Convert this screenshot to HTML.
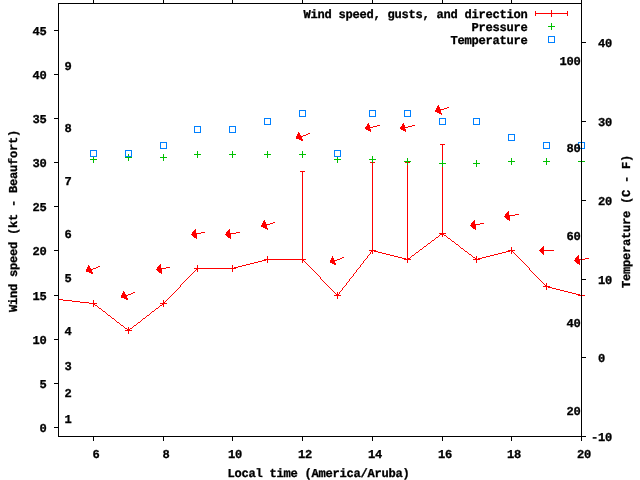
<!DOCTYPE html>
<html><head><meta charset="utf-8"><title>Wind chart</title>
<style>html,body{margin:0;padding:0;background:#fff;width:640px;height:480px;overflow:hidden} svg{display:block;will-change:transform}</style>
</head><body>
<svg width="640" height="480" viewBox="0 0 640 480">
<defs><clipPath id="pc"><rect x="59" y="3" width="522" height="433"/></clipPath></defs>
<rect width="640" height="480" fill="#fff"/>
<g shape-rendering="crispEdges">
<rect x="58" y="299" width="5" height="1" fill="#ff0000"/>
<rect x="63" y="300" width="9" height="1" fill="#ff0000"/>
<rect x="72" y="301" width="8" height="1" fill="#ff0000"/>
<rect x="80" y="302" width="9" height="1" fill="#ff0000"/>
<rect x="89" y="303" width="5" height="1" fill="#ff0000"/>
<rect x="93" y="303" width="1" height="1" fill="#ff0000"/>
<rect x="94" y="304" width="1" height="1" fill="#ff0000"/>
<rect x="95" y="305" width="2" height="1" fill="#ff0000"/>
<rect x="97" y="306" width="1" height="1" fill="#ff0000"/>
<rect x="98" y="307" width="1" height="1" fill="#ff0000"/>
<rect x="99" y="308" width="2" height="1" fill="#ff0000"/>
<rect x="101" y="309" width="1" height="1" fill="#ff0000"/>
<rect x="102" y="310" width="1" height="1" fill="#ff0000"/>
<rect x="103" y="311" width="2" height="1" fill="#ff0000"/>
<rect x="105" y="312" width="1" height="1" fill="#ff0000"/>
<rect x="106" y="313" width="1" height="1" fill="#ff0000"/>
<rect x="107" y="314" width="1" height="1" fill="#ff0000"/>
<rect x="108" y="315" width="2" height="1" fill="#ff0000"/>
<rect x="110" y="316" width="1" height="1" fill="#ff0000"/>
<rect x="111" y="317" width="1" height="1" fill="#ff0000"/>
<rect x="112" y="318" width="2" height="1" fill="#ff0000"/>
<rect x="114" y="319" width="1" height="1" fill="#ff0000"/>
<rect x="115" y="320" width="1" height="1" fill="#ff0000"/>
<rect x="116" y="321" width="1" height="1" fill="#ff0000"/>
<rect x="117" y="322" width="2" height="1" fill="#ff0000"/>
<rect x="119" y="323" width="1" height="1" fill="#ff0000"/>
<rect x="120" y="324" width="1" height="1" fill="#ff0000"/>
<rect x="121" y="325" width="2" height="1" fill="#ff0000"/>
<rect x="123" y="326" width="1" height="1" fill="#ff0000"/>
<rect x="124" y="327" width="1" height="1" fill="#ff0000"/>
<rect x="125" y="328" width="2" height="1" fill="#ff0000"/>
<rect x="127" y="329" width="1" height="1" fill="#ff0000"/>
<rect x="128" y="330" width="1" height="1" fill="#ff0000"/>
<rect x="128" y="330" width="1" height="1" fill="#ff0000"/>
<rect x="129" y="329" width="1" height="1" fill="#ff0000"/>
<rect x="130" y="328" width="2" height="1" fill="#ff0000"/>
<rect x="132" y="327" width="1" height="1" fill="#ff0000"/>
<rect x="133" y="326" width="1" height="1" fill="#ff0000"/>
<rect x="134" y="325" width="2" height="1" fill="#ff0000"/>
<rect x="136" y="324" width="1" height="1" fill="#ff0000"/>
<rect x="137" y="323" width="1" height="1" fill="#ff0000"/>
<rect x="138" y="322" width="2" height="1" fill="#ff0000"/>
<rect x="140" y="321" width="1" height="1" fill="#ff0000"/>
<rect x="141" y="320" width="1" height="1" fill="#ff0000"/>
<rect x="142" y="319" width="1" height="1" fill="#ff0000"/>
<rect x="143" y="318" width="2" height="1" fill="#ff0000"/>
<rect x="145" y="317" width="1" height="1" fill="#ff0000"/>
<rect x="146" y="316" width="1" height="1" fill="#ff0000"/>
<rect x="147" y="315" width="2" height="1" fill="#ff0000"/>
<rect x="149" y="314" width="1" height="1" fill="#ff0000"/>
<rect x="150" y="313" width="1" height="1" fill="#ff0000"/>
<rect x="151" y="312" width="1" height="1" fill="#ff0000"/>
<rect x="152" y="311" width="2" height="1" fill="#ff0000"/>
<rect x="154" y="310" width="1" height="1" fill="#ff0000"/>
<rect x="155" y="309" width="1" height="1" fill="#ff0000"/>
<rect x="156" y="308" width="2" height="1" fill="#ff0000"/>
<rect x="158" y="307" width="1" height="1" fill="#ff0000"/>
<rect x="159" y="306" width="1" height="1" fill="#ff0000"/>
<rect x="160" y="305" width="2" height="1" fill="#ff0000"/>
<rect x="162" y="304" width="1" height="1" fill="#ff0000"/>
<rect x="163" y="303" width="1" height="1" fill="#ff0000"/>
<rect x="163" y="303" width="1" height="1" fill="#ff0000"/>
<rect x="164" y="302" width="1" height="1" fill="#ff0000"/>
<rect x="165" y="301" width="1" height="1" fill="#ff0000"/>
<rect x="166" y="300" width="1" height="1" fill="#ff0000"/>
<rect x="167" y="299" width="1" height="1" fill="#ff0000"/>
<rect x="168" y="298" width="1" height="1" fill="#ff0000"/>
<rect x="169" y="297" width="1" height="1" fill="#ff0000"/>
<rect x="170" y="296" width="1" height="1" fill="#ff0000"/>
<rect x="171" y="295" width="1" height="1" fill="#ff0000"/>
<rect x="172" y="294" width="1" height="1" fill="#ff0000"/>
<rect x="173" y="293" width="1" height="1" fill="#ff0000"/>
<rect x="174" y="292" width="1" height="1" fill="#ff0000"/>
<rect x="175" y="291" width="1" height="1" fill="#ff0000"/>
<rect x="176" y="290" width="1" height="1" fill="#ff0000"/>
<rect x="177" y="289" width="1" height="1" fill="#ff0000"/>
<rect x="178" y="288" width="1" height="1" fill="#ff0000"/>
<rect x="179" y="287" width="1" height="1" fill="#ff0000"/>
<rect x="180" y="285" width="1" height="2" fill="#ff0000"/>
<rect x="181" y="284" width="1" height="1" fill="#ff0000"/>
<rect x="182" y="283" width="1" height="1" fill="#ff0000"/>
<rect x="183" y="282" width="1" height="1" fill="#ff0000"/>
<rect x="184" y="281" width="1" height="1" fill="#ff0000"/>
<rect x="185" y="280" width="1" height="1" fill="#ff0000"/>
<rect x="186" y="279" width="1" height="1" fill="#ff0000"/>
<rect x="187" y="278" width="1" height="1" fill="#ff0000"/>
<rect x="188" y="277" width="1" height="1" fill="#ff0000"/>
<rect x="189" y="276" width="1" height="1" fill="#ff0000"/>
<rect x="190" y="275" width="1" height="1" fill="#ff0000"/>
<rect x="191" y="274" width="1" height="1" fill="#ff0000"/>
<rect x="192" y="273" width="1" height="1" fill="#ff0000"/>
<rect x="193" y="272" width="1" height="1" fill="#ff0000"/>
<rect x="194" y="271" width="1" height="1" fill="#ff0000"/>
<rect x="195" y="270" width="1" height="1" fill="#ff0000"/>
<rect x="196" y="269" width="1" height="1" fill="#ff0000"/>
<rect x="197" y="268" width="1" height="1" fill="#ff0000"/>
<rect x="197" y="268" width="36" height="1" fill="#ff0000"/>
<rect x="232" y="268" width="2" height="1" fill="#ff0000"/>
<rect x="234" y="267" width="4" height="1" fill="#ff0000"/>
<rect x="238" y="266" width="4" height="1" fill="#ff0000"/>
<rect x="242" y="265" width="4" height="1" fill="#ff0000"/>
<rect x="246" y="264" width="4" height="1" fill="#ff0000"/>
<rect x="250" y="263" width="4" height="1" fill="#ff0000"/>
<rect x="254" y="262" width="4" height="1" fill="#ff0000"/>
<rect x="258" y="261" width="4" height="1" fill="#ff0000"/>
<rect x="262" y="260" width="4" height="1" fill="#ff0000"/>
<rect x="266" y="259" width="2" height="1" fill="#ff0000"/>
<rect x="267" y="259" width="36" height="1" fill="#ff0000"/>
<rect x="302" y="259" width="1" height="1" fill="#ff0000"/>
<rect x="303" y="260" width="1" height="1" fill="#ff0000"/>
<rect x="304" y="261" width="1" height="1" fill="#ff0000"/>
<rect x="305" y="262" width="1" height="1" fill="#ff0000"/>
<rect x="306" y="263" width="1" height="1" fill="#ff0000"/>
<rect x="307" y="264" width="1" height="1" fill="#ff0000"/>
<rect x="308" y="265" width="1" height="1" fill="#ff0000"/>
<rect x="309" y="266" width="1" height="1" fill="#ff0000"/>
<rect x="310" y="267" width="1" height="1" fill="#ff0000"/>
<rect x="311" y="268" width="1" height="1" fill="#ff0000"/>
<rect x="312" y="269" width="1" height="1" fill="#ff0000"/>
<rect x="313" y="270" width="1" height="1" fill="#ff0000"/>
<rect x="314" y="271" width="1" height="1" fill="#ff0000"/>
<rect x="315" y="272" width="1" height="1" fill="#ff0000"/>
<rect x="316" y="273" width="1" height="1" fill="#ff0000"/>
<rect x="317" y="274" width="1" height="1" fill="#ff0000"/>
<rect x="318" y="275" width="1" height="1" fill="#ff0000"/>
<rect x="319" y="276" width="1" height="1" fill="#ff0000"/>
<rect x="320" y="277" width="1" height="2" fill="#ff0000"/>
<rect x="321" y="279" width="1" height="1" fill="#ff0000"/>
<rect x="322" y="280" width="1" height="1" fill="#ff0000"/>
<rect x="323" y="281" width="1" height="1" fill="#ff0000"/>
<rect x="324" y="282" width="1" height="1" fill="#ff0000"/>
<rect x="325" y="283" width="1" height="1" fill="#ff0000"/>
<rect x="326" y="284" width="1" height="1" fill="#ff0000"/>
<rect x="327" y="285" width="1" height="1" fill="#ff0000"/>
<rect x="328" y="286" width="1" height="1" fill="#ff0000"/>
<rect x="329" y="287" width="1" height="1" fill="#ff0000"/>
<rect x="330" y="288" width="1" height="1" fill="#ff0000"/>
<rect x="331" y="289" width="1" height="1" fill="#ff0000"/>
<rect x="332" y="290" width="1" height="1" fill="#ff0000"/>
<rect x="333" y="291" width="1" height="1" fill="#ff0000"/>
<rect x="334" y="292" width="1" height="1" fill="#ff0000"/>
<rect x="335" y="293" width="1" height="1" fill="#ff0000"/>
<rect x="336" y="294" width="1" height="1" fill="#ff0000"/>
<rect x="337" y="295" width="1" height="1" fill="#ff0000"/>
<rect x="337" y="295" width="1" height="1" fill="#ff0000"/>
<rect x="338" y="294" width="1" height="1" fill="#ff0000"/>
<rect x="339" y="292" width="1" height="2" fill="#ff0000"/>
<rect x="340" y="291" width="1" height="1" fill="#ff0000"/>
<rect x="341" y="290" width="1" height="1" fill="#ff0000"/>
<rect x="342" y="288" width="1" height="2" fill="#ff0000"/>
<rect x="343" y="287" width="1" height="1" fill="#ff0000"/>
<rect x="344" y="286" width="1" height="1" fill="#ff0000"/>
<rect x="345" y="285" width="1" height="1" fill="#ff0000"/>
<rect x="346" y="283" width="1" height="2" fill="#ff0000"/>
<rect x="347" y="282" width="1" height="1" fill="#ff0000"/>
<rect x="348" y="281" width="1" height="1" fill="#ff0000"/>
<rect x="349" y="279" width="1" height="2" fill="#ff0000"/>
<rect x="350" y="278" width="1" height="1" fill="#ff0000"/>
<rect x="351" y="277" width="1" height="1" fill="#ff0000"/>
<rect x="352" y="276" width="1" height="1" fill="#ff0000"/>
<rect x="353" y="274" width="1" height="2" fill="#ff0000"/>
<rect x="354" y="273" width="1" height="1" fill="#ff0000"/>
<rect x="355" y="272" width="1" height="1" fill="#ff0000"/>
<rect x="356" y="270" width="1" height="2" fill="#ff0000"/>
<rect x="357" y="269" width="1" height="1" fill="#ff0000"/>
<rect x="358" y="268" width="1" height="1" fill="#ff0000"/>
<rect x="359" y="267" width="1" height="1" fill="#ff0000"/>
<rect x="360" y="265" width="1" height="2" fill="#ff0000"/>
<rect x="361" y="264" width="1" height="1" fill="#ff0000"/>
<rect x="362" y="263" width="1" height="1" fill="#ff0000"/>
<rect x="363" y="261" width="1" height="2" fill="#ff0000"/>
<rect x="364" y="260" width="1" height="1" fill="#ff0000"/>
<rect x="365" y="259" width="1" height="1" fill="#ff0000"/>
<rect x="366" y="258" width="1" height="1" fill="#ff0000"/>
<rect x="367" y="256" width="1" height="2" fill="#ff0000"/>
<rect x="368" y="255" width="1" height="1" fill="#ff0000"/>
<rect x="369" y="254" width="1" height="1" fill="#ff0000"/>
<rect x="370" y="252" width="1" height="2" fill="#ff0000"/>
<rect x="371" y="251" width="1" height="1" fill="#ff0000"/>
<rect x="372" y="250" width="1" height="1" fill="#ff0000"/>
<rect x="372" y="250" width="2" height="1" fill="#ff0000"/>
<rect x="374" y="251" width="4" height="1" fill="#ff0000"/>
<rect x="378" y="252" width="4" height="1" fill="#ff0000"/>
<rect x="382" y="253" width="4" height="1" fill="#ff0000"/>
<rect x="386" y="254" width="4" height="1" fill="#ff0000"/>
<rect x="390" y="255" width="4" height="1" fill="#ff0000"/>
<rect x="394" y="256" width="4" height="1" fill="#ff0000"/>
<rect x="398" y="257" width="4" height="1" fill="#ff0000"/>
<rect x="402" y="258" width="4" height="1" fill="#ff0000"/>
<rect x="406" y="259" width="2" height="1" fill="#ff0000"/>
<rect x="407" y="259" width="1" height="1" fill="#ff0000"/>
<rect x="408" y="258" width="2" height="1" fill="#ff0000"/>
<rect x="410" y="257" width="1" height="1" fill="#ff0000"/>
<rect x="411" y="256" width="1" height="1" fill="#ff0000"/>
<rect x="412" y="255" width="2" height="1" fill="#ff0000"/>
<rect x="414" y="254" width="1" height="1" fill="#ff0000"/>
<rect x="415" y="253" width="1" height="1" fill="#ff0000"/>
<rect x="416" y="252" width="2" height="1" fill="#ff0000"/>
<rect x="418" y="251" width="1" height="1" fill="#ff0000"/>
<rect x="419" y="250" width="1" height="1" fill="#ff0000"/>
<rect x="420" y="249" width="2" height="1" fill="#ff0000"/>
<rect x="422" y="248" width="1" height="1" fill="#ff0000"/>
<rect x="423" y="247" width="1" height="1" fill="#ff0000"/>
<rect x="424" y="246" width="2" height="1" fill="#ff0000"/>
<rect x="426" y="245" width="1" height="1" fill="#ff0000"/>
<rect x="427" y="244" width="1" height="1" fill="#ff0000"/>
<rect x="428" y="243" width="2" height="1" fill="#ff0000"/>
<rect x="430" y="242" width="1" height="1" fill="#ff0000"/>
<rect x="431" y="241" width="1" height="1" fill="#ff0000"/>
<rect x="432" y="240" width="2" height="1" fill="#ff0000"/>
<rect x="434" y="239" width="1" height="1" fill="#ff0000"/>
<rect x="435" y="238" width="1" height="1" fill="#ff0000"/>
<rect x="436" y="237" width="2" height="1" fill="#ff0000"/>
<rect x="438" y="236" width="1" height="1" fill="#ff0000"/>
<rect x="439" y="235" width="1" height="1" fill="#ff0000"/>
<rect x="440" y="234" width="2" height="1" fill="#ff0000"/>
<rect x="442" y="233" width="1" height="1" fill="#ff0000"/>
<rect x="442" y="233" width="1" height="1" fill="#ff0000"/>
<rect x="443" y="234" width="1" height="1" fill="#ff0000"/>
<rect x="444" y="235" width="2" height="1" fill="#ff0000"/>
<rect x="446" y="236" width="1" height="1" fill="#ff0000"/>
<rect x="447" y="237" width="1" height="1" fill="#ff0000"/>
<rect x="448" y="238" width="2" height="1" fill="#ff0000"/>
<rect x="450" y="239" width="1" height="1" fill="#ff0000"/>
<rect x="451" y="240" width="1" height="1" fill="#ff0000"/>
<rect x="452" y="241" width="2" height="1" fill="#ff0000"/>
<rect x="454" y="242" width="1" height="1" fill="#ff0000"/>
<rect x="455" y="243" width="1" height="1" fill="#ff0000"/>
<rect x="456" y="244" width="2" height="1" fill="#ff0000"/>
<rect x="458" y="245" width="1" height="1" fill="#ff0000"/>
<rect x="459" y="246" width="1" height="1" fill="#ff0000"/>
<rect x="460" y="247" width="1" height="1" fill="#ff0000"/>
<rect x="461" y="248" width="2" height="1" fill="#ff0000"/>
<rect x="463" y="249" width="1" height="1" fill="#ff0000"/>
<rect x="464" y="250" width="1" height="1" fill="#ff0000"/>
<rect x="465" y="251" width="2" height="1" fill="#ff0000"/>
<rect x="467" y="252" width="1" height="1" fill="#ff0000"/>
<rect x="468" y="253" width="1" height="1" fill="#ff0000"/>
<rect x="469" y="254" width="2" height="1" fill="#ff0000"/>
<rect x="471" y="255" width="1" height="1" fill="#ff0000"/>
<rect x="472" y="256" width="1" height="1" fill="#ff0000"/>
<rect x="473" y="257" width="2" height="1" fill="#ff0000"/>
<rect x="475" y="258" width="1" height="1" fill="#ff0000"/>
<rect x="476" y="259" width="1" height="1" fill="#ff0000"/>
<rect x="476" y="259" width="2" height="1" fill="#ff0000"/>
<rect x="478" y="258" width="4" height="1" fill="#ff0000"/>
<rect x="482" y="257" width="4" height="1" fill="#ff0000"/>
<rect x="486" y="256" width="4" height="1" fill="#ff0000"/>
<rect x="490" y="255" width="4" height="1" fill="#ff0000"/>
<rect x="494" y="254" width="4" height="1" fill="#ff0000"/>
<rect x="498" y="253" width="4" height="1" fill="#ff0000"/>
<rect x="502" y="252" width="4" height="1" fill="#ff0000"/>
<rect x="506" y="251" width="4" height="1" fill="#ff0000"/>
<rect x="510" y="250" width="2" height="1" fill="#ff0000"/>
<rect x="511" y="250" width="1" height="1" fill="#ff0000"/>
<rect x="512" y="251" width="1" height="1" fill="#ff0000"/>
<rect x="513" y="252" width="1" height="1" fill="#ff0000"/>
<rect x="514" y="253" width="1" height="1" fill="#ff0000"/>
<rect x="515" y="254" width="1" height="1" fill="#ff0000"/>
<rect x="516" y="255" width="1" height="1" fill="#ff0000"/>
<rect x="517" y="256" width="1" height="1" fill="#ff0000"/>
<rect x="518" y="257" width="1" height="1" fill="#ff0000"/>
<rect x="519" y="258" width="1" height="1" fill="#ff0000"/>
<rect x="520" y="259" width="1" height="1" fill="#ff0000"/>
<rect x="521" y="260" width="1" height="1" fill="#ff0000"/>
<rect x="522" y="261" width="1" height="1" fill="#ff0000"/>
<rect x="523" y="262" width="1" height="1" fill="#ff0000"/>
<rect x="524" y="263" width="1" height="1" fill="#ff0000"/>
<rect x="525" y="264" width="1" height="1" fill="#ff0000"/>
<rect x="526" y="265" width="1" height="1" fill="#ff0000"/>
<rect x="527" y="266" width="1" height="1" fill="#ff0000"/>
<rect x="528" y="267" width="1" height="1" fill="#ff0000"/>
<rect x="529" y="268" width="1" height="2" fill="#ff0000"/>
<rect x="530" y="270" width="1" height="1" fill="#ff0000"/>
<rect x="531" y="271" width="1" height="1" fill="#ff0000"/>
<rect x="532" y="272" width="1" height="1" fill="#ff0000"/>
<rect x="533" y="273" width="1" height="1" fill="#ff0000"/>
<rect x="534" y="274" width="1" height="1" fill="#ff0000"/>
<rect x="535" y="275" width="1" height="1" fill="#ff0000"/>
<rect x="536" y="276" width="1" height="1" fill="#ff0000"/>
<rect x="537" y="277" width="1" height="1" fill="#ff0000"/>
<rect x="538" y="278" width="1" height="1" fill="#ff0000"/>
<rect x="539" y="279" width="1" height="1" fill="#ff0000"/>
<rect x="540" y="280" width="1" height="1" fill="#ff0000"/>
<rect x="541" y="281" width="1" height="1" fill="#ff0000"/>
<rect x="542" y="282" width="1" height="1" fill="#ff0000"/>
<rect x="543" y="283" width="1" height="1" fill="#ff0000"/>
<rect x="544" y="284" width="1" height="1" fill="#ff0000"/>
<rect x="545" y="285" width="1" height="1" fill="#ff0000"/>
<rect x="546" y="286" width="1" height="1" fill="#ff0000"/>
<rect x="546" y="286" width="2" height="1" fill="#ff0000"/>
<rect x="548" y="287" width="4" height="1" fill="#ff0000"/>
<rect x="552" y="288" width="4" height="1" fill="#ff0000"/>
<rect x="556" y="289" width="4" height="1" fill="#ff0000"/>
<rect x="560" y="290" width="4" height="1" fill="#ff0000"/>
<rect x="564" y="291" width="4" height="1" fill="#ff0000"/>
<rect x="568" y="292" width="4" height="1" fill="#ff0000"/>
<rect x="572" y="293" width="4" height="1" fill="#ff0000"/>
<rect x="576" y="294" width="4" height="1" fill="#ff0000"/>
<rect x="580" y="295" width="2" height="1" fill="#ff0000"/>
<rect x="90" y="303" width="7" height="1" fill="#ff0000"/>
<rect x="93" y="300" width="1" height="7" fill="#ff0000"/>
<rect x="125" y="330" width="7" height="1" fill="#ff0000"/>
<rect x="128" y="327" width="1" height="7" fill="#ff0000"/>
<rect x="160" y="303" width="7" height="1" fill="#ff0000"/>
<rect x="163" y="300" width="1" height="7" fill="#ff0000"/>
<rect x="194" y="268" width="7" height="1" fill="#ff0000"/>
<rect x="197" y="265" width="1" height="7" fill="#ff0000"/>
<rect x="229" y="268" width="7" height="1" fill="#ff0000"/>
<rect x="232" y="265" width="1" height="7" fill="#ff0000"/>
<rect x="264" y="259" width="7" height="1" fill="#ff0000"/>
<rect x="267" y="256" width="1" height="7" fill="#ff0000"/>
<rect x="302" y="171" width="1" height="89" fill="#ff0000"/>
<rect x="300" y="171" width="5" height="1" fill="#ff0000"/>
<rect x="299" y="259" width="7" height="1" fill="#ff0000"/>
<rect x="302" y="256" width="1" height="7" fill="#ff0000"/>
<rect x="334" y="295" width="7" height="1" fill="#ff0000"/>
<rect x="337" y="292" width="1" height="7" fill="#ff0000"/>
<rect x="372" y="162" width="1" height="89" fill="#ff0000"/>
<rect x="370" y="162" width="5" height="1" fill="#ff0000"/>
<rect x="369" y="250" width="7" height="1" fill="#ff0000"/>
<rect x="372" y="247" width="1" height="7" fill="#ff0000"/>
<rect x="407" y="162" width="1" height="98" fill="#ff0000"/>
<rect x="405" y="162" width="5" height="1" fill="#ff0000"/>
<rect x="404" y="259" width="7" height="1" fill="#ff0000"/>
<rect x="407" y="256" width="1" height="7" fill="#ff0000"/>
<rect x="442" y="144" width="1" height="90" fill="#ff0000"/>
<rect x="440" y="144" width="5" height="1" fill="#ff0000"/>
<rect x="439" y="233" width="7" height="1" fill="#ff0000"/>
<rect x="442" y="230" width="1" height="7" fill="#ff0000"/>
<rect x="473" y="259" width="7" height="1" fill="#ff0000"/>
<rect x="476" y="256" width="1" height="7" fill="#ff0000"/>
<rect x="508" y="250" width="7" height="1" fill="#ff0000"/>
<rect x="511" y="247" width="1" height="7" fill="#ff0000"/>
<rect x="543" y="286" width="7" height="1" fill="#ff0000"/>
<rect x="546" y="283" width="1" height="7" fill="#ff0000"/>
<rect x="578" y="295" width="7" height="1" fill="#ff0000"/>
<rect x="581" y="292" width="1" height="7" fill="#ff0000"/>
<rect x="98" y="266" width="2" height="1" fill="#ff0000"/>
<rect x="96" y="267" width="2" height="1" fill="#ff0000"/>
<rect x="93" y="268" width="3" height="1" fill="#ff0000"/>
<rect x="90" y="269" width="3" height="1" fill="#ff0000"/>
<rect x="88" y="270" width="2" height="1" fill="#ff0000"/>
<rect x="86" y="271" width="2" height="1" fill="#ff0000"/>
<polygon points="86.5,271.0 88.5,265.5 92.5,273.5" fill="#ff0000" stroke="#ff0000" stroke-width="1" stroke-linejoin="bevel"/>
<rect x="133" y="292" width="2" height="1" fill="#ff0000"/>
<rect x="131" y="293" width="2" height="1" fill="#ff0000"/>
<rect x="128" y="294" width="3" height="1" fill="#ff0000"/>
<rect x="125" y="295" width="3" height="1" fill="#ff0000"/>
<rect x="123" y="296" width="2" height="1" fill="#ff0000"/>
<rect x="121" y="297" width="2" height="1" fill="#ff0000"/>
<polygon points="121.5,297.0 123.5,291.5 127.5,299.5" fill="#ff0000" stroke="#ff0000" stroke-width="1" stroke-linejoin="bevel"/>
<rect x="166" y="267" width="4" height="1" fill="#ff0000"/>
<rect x="160" y="268" width="6" height="1" fill="#ff0000"/>
<rect x="156" y="269" width="4" height="1" fill="#ff0000"/>
<polygon points="156.5,269.5 160.5,264.5 161.5,273.5" fill="#ff0000" stroke="#ff0000" stroke-width="1" stroke-linejoin="bevel"/>
<rect x="201" y="232" width="4" height="1" fill="#ff0000"/>
<rect x="195" y="233" width="6" height="1" fill="#ff0000"/>
<rect x="191" y="234" width="4" height="1" fill="#ff0000"/>
<polygon points="191.5,234.5 195.5,229.5 196.5,238.5" fill="#ff0000" stroke="#ff0000" stroke-width="1" stroke-linejoin="bevel"/>
<rect x="236" y="232" width="4" height="1" fill="#ff0000"/>
<rect x="229" y="233" width="7" height="1" fill="#ff0000"/>
<rect x="225" y="234" width="4" height="1" fill="#ff0000"/>
<polygon points="225.5,234.5 229.5,229.5 230.5,238.5" fill="#ff0000" stroke="#ff0000" stroke-width="1" stroke-linejoin="bevel"/>
<rect x="273" y="222" width="2" height="1" fill="#ff0000"/>
<rect x="270" y="223" width="3" height="1" fill="#ff0000"/>
<rect x="266" y="224" width="4" height="1" fill="#ff0000"/>
<rect x="263" y="225" width="3" height="1" fill="#ff0000"/>
<rect x="261" y="226" width="2" height="1" fill="#ff0000"/>
<polygon points="261.5,226.0 264.5,220.5 267.5,229.5" fill="#ff0000" stroke="#ff0000" stroke-width="1" stroke-linejoin="bevel"/>
<rect x="308" y="133" width="2" height="1" fill="#ff0000"/>
<rect x="306" y="134" width="2" height="1" fill="#ff0000"/>
<rect x="303" y="135" width="3" height="1" fill="#ff0000"/>
<rect x="300" y="136" width="3" height="1" fill="#ff0000"/>
<rect x="298" y="137" width="2" height="1" fill="#ff0000"/>
<rect x="296" y="138" width="2" height="1" fill="#ff0000"/>
<polygon points="296.5,138.0 298.5,132.5 302.5,140.5" fill="#ff0000" stroke="#ff0000" stroke-width="1" stroke-linejoin="bevel"/>
<rect x="342" y="257" width="2" height="1" fill="#ff0000"/>
<rect x="340" y="258" width="2" height="1" fill="#ff0000"/>
<rect x="337" y="259" width="3" height="1" fill="#ff0000"/>
<rect x="334" y="260" width="3" height="1" fill="#ff0000"/>
<rect x="332" y="261" width="2" height="1" fill="#ff0000"/>
<rect x="330" y="262" width="2" height="1" fill="#ff0000"/>
<polygon points="330.5,262.0 332.5,256.5 335.5,264.5" fill="#ff0000" stroke="#ff0000" stroke-width="1" stroke-linejoin="bevel"/>
<rect x="377" y="125" width="3" height="1" fill="#ff0000"/>
<rect x="373" y="126" width="4" height="1" fill="#ff0000"/>
<rect x="368" y="127" width="5" height="1" fill="#ff0000"/>
<rect x="365" y="128" width="3" height="1" fill="#ff0000"/>
<polygon points="365.5,128.5 368.5,123.5 370.5,131.5" fill="#ff0000" stroke="#ff0000" stroke-width="1" stroke-linejoin="bevel"/>
<rect x="412" y="125" width="3" height="1" fill="#ff0000"/>
<rect x="408" y="126" width="4" height="1" fill="#ff0000"/>
<rect x="403" y="127" width="5" height="1" fill="#ff0000"/>
<rect x="400" y="128" width="3" height="1" fill="#ff0000"/>
<polygon points="400.5,128.5 403.5,123.5 405.5,131.5" fill="#ff0000" stroke="#ff0000" stroke-width="1" stroke-linejoin="bevel"/>
<rect x="447" y="107" width="2" height="1" fill="#ff0000"/>
<rect x="444" y="108" width="3" height="1" fill="#ff0000"/>
<rect x="440" y="109" width="4" height="1" fill="#ff0000"/>
<rect x="437" y="110" width="3" height="1" fill="#ff0000"/>
<rect x="435" y="111" width="2" height="1" fill="#ff0000"/>
<polygon points="435.5,111.0 438.5,105.5 441.5,114.5" fill="#ff0000" stroke="#ff0000" stroke-width="1" stroke-linejoin="bevel"/>
<rect x="480" y="223" width="4" height="1" fill="#ff0000"/>
<rect x="474" y="224" width="6" height="1" fill="#ff0000"/>
<rect x="470" y="225" width="4" height="1" fill="#ff0000"/>
<polygon points="470.5,225.5 474.5,220.5 475.5,229.5" fill="#ff0000" stroke="#ff0000" stroke-width="1" stroke-linejoin="bevel"/>
<rect x="515" y="214" width="4" height="1" fill="#ff0000"/>
<rect x="508" y="215" width="7" height="1" fill="#ff0000"/>
<rect x="504" y="216" width="4" height="1" fill="#ff0000"/>
<polygon points="504.5,216.5 508.5,211.5 509.5,220.5" fill="#ff0000" stroke="#ff0000" stroke-width="1" stroke-linejoin="bevel"/>
<rect x="539" y="250" width="15" height="1" fill="#ff0000"/>
<polygon points="539.5,250.5 543.5,246.5 543.5,254.5" fill="#ff0000" stroke="#ff0000" stroke-width="1" stroke-linejoin="bevel"/>
<rect x="585" y="258" width="4" height="1" fill="#ff0000"/>
<rect x="578" y="259" width="7" height="1" fill="#ff0000"/>
<rect x="574" y="260" width="4" height="1" fill="#ff0000"/>
<polygon points="574.5,260.5 578.5,255.5 579.5,264.5" fill="#ff0000" stroke="#ff0000" stroke-width="1" stroke-linejoin="bevel"/>
<rect x="90" y="159" width="7" height="1" fill="#00c000"/>
<rect x="93" y="156" width="1" height="7" fill="#00c000"/>
<rect x="125" y="157" width="7" height="1" fill="#00c000"/>
<rect x="128" y="154" width="1" height="7" fill="#00c000"/>
<rect x="160" y="157" width="7" height="1" fill="#00c000"/>
<rect x="163" y="154" width="1" height="7" fill="#00c000"/>
<rect x="194" y="154" width="7" height="1" fill="#00c000"/>
<rect x="197" y="151" width="1" height="7" fill="#00c000"/>
<rect x="229" y="154" width="7" height="1" fill="#00c000"/>
<rect x="232" y="151" width="1" height="7" fill="#00c000"/>
<rect x="264" y="154" width="7" height="1" fill="#00c000"/>
<rect x="267" y="151" width="1" height="7" fill="#00c000"/>
<rect x="299" y="154" width="7" height="1" fill="#00c000"/>
<rect x="302" y="151" width="1" height="7" fill="#00c000"/>
<rect x="334" y="159" width="7" height="1" fill="#00c000"/>
<rect x="337" y="156" width="1" height="7" fill="#00c000"/>
<rect x="369" y="159" width="7" height="1" fill="#00c000"/>
<rect x="372" y="156" width="1" height="7" fill="#00c000"/>
<rect x="404" y="161" width="7" height="1" fill="#00c000"/>
<rect x="407" y="158" width="1" height="7" fill="#00c000"/>
<rect x="439" y="163" width="7" height="1" fill="#00c000"/>
<rect x="442" y="160" width="1" height="7" fill="#00c000"/>
<rect x="473" y="163" width="7" height="1" fill="#00c000"/>
<rect x="476" y="160" width="1" height="7" fill="#00c000"/>
<rect x="508" y="161" width="7" height="1" fill="#00c000"/>
<rect x="511" y="158" width="1" height="7" fill="#00c000"/>
<rect x="543" y="161" width="7" height="1" fill="#00c000"/>
<rect x="546" y="158" width="1" height="7" fill="#00c000"/>
<rect x="578" y="161" width="7" height="1" fill="#00c000"/>
<rect x="581" y="158" width="1" height="7" fill="#00c000"/>
<rect x="90" y="150" width="7" height="1" fill="#0080ff"/>
<rect x="90" y="156" width="7" height="1" fill="#0080ff"/>
<rect x="90" y="150" width="1" height="7" fill="#0080ff"/>
<rect x="96" y="150" width="1" height="7" fill="#0080ff"/>
<rect x="125" y="150" width="7" height="1" fill="#0080ff"/>
<rect x="125" y="156" width="7" height="1" fill="#0080ff"/>
<rect x="125" y="150" width="1" height="7" fill="#0080ff"/>
<rect x="131" y="150" width="1" height="7" fill="#0080ff"/>
<rect x="160" y="142" width="7" height="1" fill="#0080ff"/>
<rect x="160" y="148" width="7" height="1" fill="#0080ff"/>
<rect x="160" y="142" width="1" height="7" fill="#0080ff"/>
<rect x="166" y="142" width="1" height="7" fill="#0080ff"/>
<rect x="194" y="126" width="7" height="1" fill="#0080ff"/>
<rect x="194" y="132" width="7" height="1" fill="#0080ff"/>
<rect x="194" y="126" width="1" height="7" fill="#0080ff"/>
<rect x="200" y="126" width="1" height="7" fill="#0080ff"/>
<rect x="229" y="126" width="7" height="1" fill="#0080ff"/>
<rect x="229" y="132" width="7" height="1" fill="#0080ff"/>
<rect x="229" y="126" width="1" height="7" fill="#0080ff"/>
<rect x="235" y="126" width="1" height="7" fill="#0080ff"/>
<rect x="264" y="118" width="7" height="1" fill="#0080ff"/>
<rect x="264" y="124" width="7" height="1" fill="#0080ff"/>
<rect x="264" y="118" width="1" height="7" fill="#0080ff"/>
<rect x="270" y="118" width="1" height="7" fill="#0080ff"/>
<rect x="299" y="110" width="7" height="1" fill="#0080ff"/>
<rect x="299" y="116" width="7" height="1" fill="#0080ff"/>
<rect x="299" y="110" width="1" height="7" fill="#0080ff"/>
<rect x="305" y="110" width="1" height="7" fill="#0080ff"/>
<rect x="334" y="150" width="7" height="1" fill="#0080ff"/>
<rect x="334" y="156" width="7" height="1" fill="#0080ff"/>
<rect x="334" y="150" width="1" height="7" fill="#0080ff"/>
<rect x="340" y="150" width="1" height="7" fill="#0080ff"/>
<rect x="369" y="110" width="7" height="1" fill="#0080ff"/>
<rect x="369" y="116" width="7" height="1" fill="#0080ff"/>
<rect x="369" y="110" width="1" height="7" fill="#0080ff"/>
<rect x="375" y="110" width="1" height="7" fill="#0080ff"/>
<rect x="404" y="110" width="7" height="1" fill="#0080ff"/>
<rect x="404" y="116" width="7" height="1" fill="#0080ff"/>
<rect x="404" y="110" width="1" height="7" fill="#0080ff"/>
<rect x="410" y="110" width="1" height="7" fill="#0080ff"/>
<rect x="439" y="118" width="7" height="1" fill="#0080ff"/>
<rect x="439" y="124" width="7" height="1" fill="#0080ff"/>
<rect x="439" y="118" width="1" height="7" fill="#0080ff"/>
<rect x="445" y="118" width="1" height="7" fill="#0080ff"/>
<rect x="473" y="118" width="7" height="1" fill="#0080ff"/>
<rect x="473" y="124" width="7" height="1" fill="#0080ff"/>
<rect x="473" y="118" width="1" height="7" fill="#0080ff"/>
<rect x="479" y="118" width="1" height="7" fill="#0080ff"/>
<rect x="508" y="134" width="7" height="1" fill="#0080ff"/>
<rect x="508" y="140" width="7" height="1" fill="#0080ff"/>
<rect x="508" y="134" width="1" height="7" fill="#0080ff"/>
<rect x="514" y="134" width="1" height="7" fill="#0080ff"/>
<rect x="543" y="142" width="7" height="1" fill="#0080ff"/>
<rect x="543" y="148" width="7" height="1" fill="#0080ff"/>
<rect x="543" y="142" width="1" height="7" fill="#0080ff"/>
<rect x="549" y="142" width="1" height="7" fill="#0080ff"/>
<rect x="578" y="142" width="7" height="1" fill="#0080ff"/>
<rect x="578" y="148" width="7" height="1" fill="#0080ff"/>
<rect x="578" y="142" width="1" height="7" fill="#0080ff"/>
<rect x="584" y="142" width="1" height="7" fill="#0080ff"/>
<rect x="535" y="13" width="33" height="1" fill="#ff0000"/>
<rect x="535" y="11" width="1" height="5" fill="#ff0000"/>
<rect x="567" y="11" width="1" height="5" fill="#ff0000"/>
<rect x="548" y="13" width="7" height="1" fill="#ff0000"/>
<rect x="551" y="10" width="1" height="7" fill="#ff0000"/>
<rect x="548" y="26" width="7" height="1" fill="#00c000"/>
<rect x="551" y="23" width="1" height="7" fill="#00c000"/>
<rect x="548" y="36" width="7" height="1" fill="#0080ff"/>
<rect x="548" y="42" width="7" height="1" fill="#0080ff"/>
<rect x="548" y="36" width="1" height="7" fill="#0080ff"/>
<rect x="554" y="36" width="1" height="7" fill="#0080ff"/>
<rect x="93" y="437" width="1" height="4" fill="#000000"/>
<rect x="93" y="0" width="1" height="3" fill="#000000"/>
<rect x="163" y="437" width="1" height="4" fill="#000000"/>
<rect x="163" y="0" width="1" height="3" fill="#000000"/>
<rect x="232" y="437" width="1" height="4" fill="#000000"/>
<rect x="232" y="0" width="1" height="3" fill="#000000"/>
<rect x="302" y="437" width="1" height="4" fill="#000000"/>
<rect x="302" y="0" width="1" height="3" fill="#000000"/>
<rect x="372" y="437" width="1" height="4" fill="#000000"/>
<rect x="372" y="0" width="1" height="3" fill="#000000"/>
<rect x="442" y="437" width="1" height="4" fill="#000000"/>
<rect x="442" y="0" width="1" height="3" fill="#000000"/>
<rect x="511" y="437" width="1" height="4" fill="#000000"/>
<rect x="511" y="0" width="1" height="3" fill="#000000"/>
<rect x="581" y="437" width="1" height="4" fill="#000000"/>
<rect x="581" y="0" width="1" height="3" fill="#000000"/>
<rect x="54" y="427" width="4" height="1" fill="#000000"/>
<rect x="54" y="383" width="4" height="1" fill="#000000"/>
<rect x="54" y="339" width="4" height="1" fill="#000000"/>
<rect x="54" y="295" width="4" height="1" fill="#000000"/>
<rect x="54" y="250" width="4" height="1" fill="#000000"/>
<rect x="54" y="206" width="4" height="1" fill="#000000"/>
<rect x="54" y="162" width="4" height="1" fill="#000000"/>
<rect x="54" y="118" width="4" height="1" fill="#000000"/>
<rect x="54" y="74" width="4" height="1" fill="#000000"/>
<rect x="54" y="30" width="4" height="1" fill="#000000"/>
<rect x="582" y="436" width="4" height="1" fill="#000000"/>
<rect x="582" y="357" width="4" height="1" fill="#000000"/>
<rect x="582" y="279" width="4" height="1" fill="#000000"/>
<rect x="582" y="200" width="4" height="1" fill="#000000"/>
<rect x="582" y="121" width="4" height="1" fill="#000000"/>
<rect x="582" y="42" width="4" height="1" fill="#000000"/>
<rect x="58" y="3" width="524" height="1" fill="#000000"/>
<rect x="58" y="436" width="524" height="1" fill="#000000"/>
<rect x="58" y="3" width="1" height="434" fill="#000000"/>
<rect x="581" y="3" width="1" height="434" fill="#000000"/>
</g>
<g stroke="#000" stroke-width="0.3" style="font-family:'Liberation Mono','DejaVu Sans Mono',monospace;font-weight:bold;font-size:12.1px;letter-spacing:-0.260px;white-space:pre;text-rendering:geometricPrecision" fill="#000">
<text x="46.5" y="432" text-anchor="end" >0</text>
<text x="46.5" y="388" text-anchor="end" >5</text>
<text x="46.5" y="344" text-anchor="end" >10</text>
<text x="46.5" y="300" text-anchor="end" >15</text>
<text x="46.5" y="255" text-anchor="end" >20</text>
<text x="46.5" y="211" text-anchor="end" >25</text>
<text x="46.5" y="167" text-anchor="end" >30</text>
<text x="46.5" y="123" text-anchor="end" >35</text>
<text x="46.5" y="79" text-anchor="end" >40</text>
<text x="46.5" y="35" text-anchor="end" >45</text>
<text x="92.5" y="458" text-anchor="start" >6</text>
<text x="162.5" y="458" text-anchor="start" >8</text>
<text x="228.0" y="458" text-anchor="start" >10</text>
<text x="298.0" y="458" text-anchor="start" >12</text>
<text x="368.0" y="458" text-anchor="start" >14</text>
<text x="438.0" y="458" text-anchor="start" >16</text>
<text x="507.0" y="458" text-anchor="start" >18</text>
<text x="577.0" y="458" text-anchor="start" >20</text>
<text x="591" y="441" text-anchor="start" >-10</text>
<text x="591" y="362" text-anchor="start" >&#160;0</text>
<text x="591" y="284" text-anchor="start" >&#160;10</text>
<text x="591" y="205" text-anchor="start" >&#160;20</text>
<text x="591" y="126" text-anchor="start" >&#160;30</text>
<text x="591" y="47" text-anchor="start" >&#160;40</text>
<text x="64.5" y="423" text-anchor="start" >1</text>
<text x="64.5" y="397" text-anchor="start" >2</text>
<text x="64.5" y="370" text-anchor="start" >3</text>
<text x="64.5" y="335" text-anchor="start" >4</text>
<text x="64.5" y="282" text-anchor="start" >5</text>
<text x="64.5" y="238" text-anchor="start" >6</text>
<text x="64.5" y="185" text-anchor="start" >7</text>
<text x="64.5" y="132" text-anchor="start" >8</text>
<text x="64.5" y="70" text-anchor="start" >9</text>
<text x="580.5" y="415" text-anchor="end" >20</text>
<text x="580.5" y="327" text-anchor="end" >40</text>
<text x="580.5" y="240" text-anchor="end" >60</text>
<text x="580.5" y="152" text-anchor="end" >80</text>
<text x="580.5" y="65" text-anchor="end" >100</text>
<text x="527.5" y="18" text-anchor="end" >Wind speed, gusts, and direction</text>
<text x="527.5" y="31" text-anchor="end" >Pressure</text>
<text x="527.5" y="44" text-anchor="end" >Temperature</text>
<text x="227.5" y="477" text-anchor="start" >Local time (America/Aruba)</text>
<text transform="translate(17,312) rotate(-90)" x="0" y="0">Wind speed (kt - Beaufort)</text>
<text transform="translate(630,288) rotate(-90)" x="0" y="0">Temperature (C - F)</text>
</g>
</svg>
</body></html>
